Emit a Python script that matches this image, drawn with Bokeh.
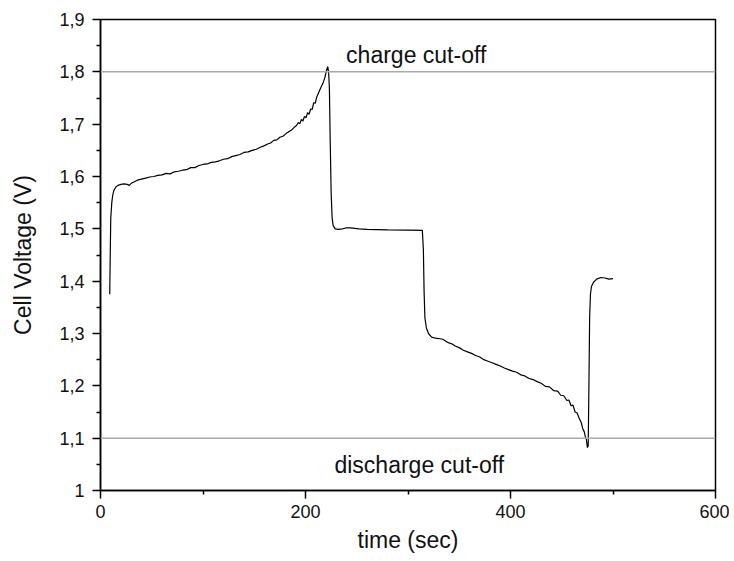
from bokeh.plotting import figure
from bokeh.models import Span, FixedTicker, Label, Range1d
from bokeh.embed import file_html
from bokeh.resources import INLINE

# time (sec)
time_s = [9.0, 9.5, 10, 11, 12, 13, 15, 17, 20, 23, 26, 28, 30, 33, 36, 40, 44, 48, 52, 56, 60,
          64, 68, 72, 76, 80, 84, 88, 92, 96, 100, 104, 108, 112, 116, 120, 124, 128, 132, 136,
          140, 144, 148, 152, 156, 160, 163, 166, 169, 172, 175, 178, 181, 184, 187, 189, 191,
          193, 194.5, 196, 197.5, 199, 200.5, 202, 203.5, 205, 206.5, 208, 209.5, 211, 213, 215,
          217, 219, 220.5, 221.7, 222.5, 223.3, 224, 225, 226, 227, 229, 232, 236, 240, 244, 248,
          252, 260, 280, 300, 314, 315, 315.7, 316.5, 318, 320, 323, 327, 331, 334, 337, 340, 343,
          346, 350, 354, 358, 362, 366, 370, 374, 378, 382, 386, 390, 394, 398, 402, 406, 410,
          414, 418, 422, 426, 430, 434, 438, 442, 446, 449, 452, 455, 457, 459, 461, 463, 465,
          467, 469, 470.5, 472, 473, 474, 475, 475.8, 476.5, 477.2, 478, 479, 481, 484, 488, 492,
          496, 500]
# cell voltage (V)
voltage = [1.375, 1.45, 1.52, 1.55, 1.565, 1.573, 1.580, 1.583, 1.585, 1.586, 1.585, 1.583, 1.587,
           1.590, 1.593, 1.595, 1.597, 1.599, 1.600, 1.602, 1.603,
           1.606, 1.605, 1.609, 1.610, 1.612, 1.613, 1.617, 1.617, 1.621, 1.623, 1.624, 1.627,
           1.628, 1.630, 1.633, 1.634, 1.638, 1.640, 1.642, 1.646, 1.647, 1.650, 1.652, 1.656,
           1.659, 1.662, 1.664, 1.669, 1.670, 1.675, 1.677, 1.682, 1.686, 1.690, 1.694, 1.697,
           1.703, 1.701, 1.709, 1.706, 1.715, 1.712, 1.722, 1.719, 1.729, 1.728, 1.741, 1.740,
           1.752, 1.761, 1.770, 1.778, 1.790, 1.803, 1.810, 1.800, 1.770, 1.68, 1.57, 1.52, 1.506,
           1.500, 1.499, 1.500, 1.502, 1.502, 1.501, 1.500, 1.499, 1.498, 1.4975, 1.497, 1.46,
           1.38, 1.33, 1.310, 1.300, 1.293, 1.291, 1.290, 1.289, 1.285, 1.282, 1.280, 1.276,
           1.273, 1.268, 1.265, 1.262, 1.258, 1.255, 1.250, 1.247, 1.244, 1.241, 1.238, 1.234,
           1.231, 1.228, 1.226, 1.221, 1.219, 1.214, 1.212, 1.208, 1.205, 1.199, 1.198, 1.191,
           1.190, 1.182, 1.181, 1.172, 1.173, 1.162, 1.163, 1.150, 1.148, 1.138, 1.130, 1.118,
           1.112, 1.103, 1.098, 1.082, 1.085, 1.20, 1.33, 1.375, 1.390, 1.398, 1.404, 1.407,
           1.406, 1.404, 1.405]

x_ticks = [0, 200, 400, 600]
x_minor = [100, 300, 500]
y_ticks = [1.0, 1.1, 1.2, 1.3, 1.4, 1.5, 1.6, 1.7, 1.8, 1.9]
y_tick_labels = ["1", "1,1", "1,2", "1,3", "1,4", "1,5", "1,6", "1,7", "1,8", "1,9"]
y_minor = [1.05, 1.15, 1.25, 1.35, 1.45, 1.55, 1.65, 1.75, 1.85]
cutoffs = [1.8, 1.1]
cutoff_labels = ["charge cut-off", "discharge cut-off"]

FONT = "Liberation Sans"

p = figure(frame_width=615, frame_height=471, output_backend="svg", toolbar_location=None,
           x_range=Range1d(0, 600), y_range=Range1d(1.0, 1.9),
           min_border_left=100, min_border_top=19, min_border_bottom=70, min_border_right=14,
           background_fill_color="white", border_fill_color="white")

p.xgrid.visible = False
p.ygrid.visible = False
p.outline_line_color = "black"
p.outline_line_width = 1.5

for c in cutoffs:
    p.add_layout(Span(location=c, dimension="width", line_color="#aaaaaa", line_width=1.5))

p.line(time_s, voltage, line_color="black", line_width=1.2)

p.add_layout(Label(x=308, y=1.833, text=cutoff_labels[0], text_align="center",
                   text_baseline="alphabetic", text_font=FONT, text_font_size="23px",
                   text_color="#111111"))
p.add_layout(Label(x=311, y=1.048, text=cutoff_labels[1], text_align="center",
                   text_baseline="alphabetic", text_font=FONT, text_font_size="23px",
                   text_color="#111111"))

p.xaxis.ticker = FixedTicker(ticks=x_ticks, minor_ticks=x_minor)
p.yaxis.ticker = FixedTicker(ticks=y_ticks, minor_ticks=y_minor)
p.yaxis.major_label_overrides = {t: l for t, l in zip(y_ticks, y_tick_labels)}

for ax in (p.xaxis[0], p.yaxis[0]):
    ax.axis_line_width = 1.5
    ax.axis_line_color = "black"
    ax.major_tick_line_width = 1.5
    ax.minor_tick_line_width = 1.5
    ax.major_tick_out = 8
    ax.major_tick_in = 0
    ax.minor_tick_out = 4
    ax.minor_tick_in = 0
    ax.major_label_text_font = FONT
    ax.major_label_text_font_size = "18px"
    ax.major_label_text_color = "#111111"
    ax.axis_label_text_font = FONT
    ax.axis_label_text_font_size = "23px"
    ax.axis_label_text_font_style = "normal"
    ax.axis_label_text_color = "#111111"

p.xaxis.axis_label = "time (sec)"
p.yaxis.axis_label = "Cell Voltage (V)"
p.xaxis.major_label_standoff = 6
p.yaxis.major_label_standoff = 8
p.xaxis.axis_label_standoff = 6
p.yaxis.axis_label_standoff = 20

open("out.html", "w").write(file_html(p, INLINE))
